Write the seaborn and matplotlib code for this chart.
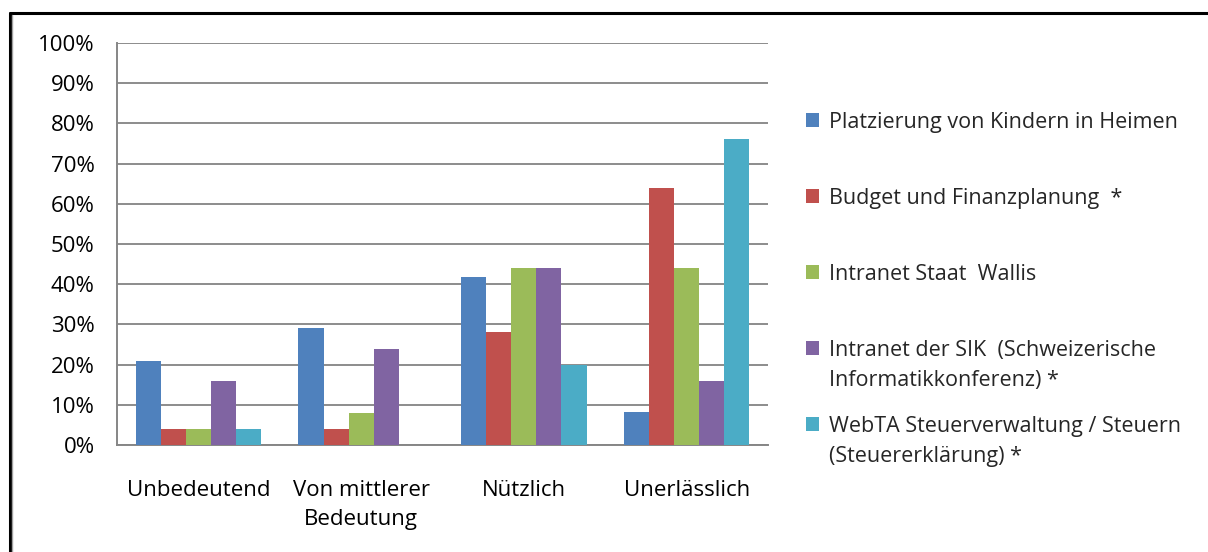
import matplotlib
matplotlib.use("Agg")
import matplotlib.pyplot as plt
import seaborn as sns
import pandas as pd
from matplotlib.lines import Line2D
from matplotlib.patches import Rectangle
from matplotlib.ticker import FuncFormatter, MultipleLocator

categories = ["Unbedeutend", "Von mittlerer\nBedeutung", "Nützlich", "Unerlässlich"]
series = [
    "Platzierung von Kindern in Heimen",
    "Budget und Finanzplanung  *",
    "Intranet Staat  Wallis",
    "Intranet der SIK  (Schweizerische\nInformatikkonferenz) *",
    "WebTA Steuerverwaltung / Steuern\n(Steuererklärung) *",
]
platzierung = [20.8, 29.2, 41.7, 8.3]
budget = [4.0, 4.0, 28.0, 64.0]
intranet_vs = [4.0, 8.0, 44.0, 44.0]
intranet_sik = [16.0, 24.0, 44.0, 16.0]
webta = [4.0, 0.0, 20.0, 76.0]
colors = ["#4F81BD", "#C0504D", "#9BBB59", "#8064A2", "#4BACC6"]

values = [platzierung, budget, intranet_vs, intranet_sik, webta]
df = pd.DataFrame(
    [(c, s, v) for s, vals in zip(series, values) for c, v in zip(categories, vals)],
    columns=["Kategorie", "Serie", "Wert"],
)

sns.set_style("white")
plt.rcParams["font.family"] = ["Open Sans", "DejaVu Sans"]

W, H = 1208, 552
fig = plt.figure(figsize=(W / 100, H / 100), dpi=100)
ax = fig.add_axes([117 / W, 1 - 445 / H, 651 / W, 402 / H])

sns.barplot(data=df, x="Kategorie", y="Wert", hue="Serie", palette=colors,
            width=0.77, saturation=1, linewidth=0, ax=ax, legend=False, zorder=3)

ax.set_ylim(0, 100)
ax.set_xlim(-0.5, 3.5)
ax.yaxis.set_major_locator(MultipleLocator(10))
ax.yaxis.set_major_formatter(FuncFormatter(lambda v, p: f"{v:.0f}%"))
ax.grid(axis="y", color="#8c8c8c", linewidth=1.4, zorder=0)
ax.set_axisbelow(True)
ax.set_xlabel("")
ax.set_ylabel("")
for s in ["top", "right"]:
    ax.spines[s].set_visible(False)
for s in ["left", "bottom"]:
    ax.spines[s].set_color("#868686")
    ax.spines[s].set_linewidth(1.4)
ax.tick_params(axis="y", length=5, width=1.2, color="#868686", labelsize=16, pad=11, labelcolor="#000000")
ax.tick_params(axis="x", which="major", length=0, labelsize=16, pad=25, labelcolor="#000000")
for lbl in ax.get_xticklabels():
    lbl.set_linespacing(1.5)
ax.set_xticks([-0.5, 0.5, 1.5, 2.5, 3.5], minor=True)
ax.tick_params(axis="x", which="minor", length=6, width=1.2, color="#868686", direction="out")

# legend on the right
lx, ly0, step = 806 / W, 120 / H, 76 / H
for i, (name, col) in enumerate(zip(series, colors)):
    y = 1 - (ly0 + i * step)
    fig.patches.append(Rectangle((lx, y - 7 / H), 13 / W, 14 / H,
                                 transform=fig.transFigure, facecolor=col, edgecolor="none"))
    fig.text(lx + 23 / W, y + 8 / H, name, fontsize=15.5, va="top", ha="left",
             linespacing=1.55)

# outer frame (only left and top edges are inside the picture)
fig.add_artist(Line2D([9.5 / W, 9.5 / W], [0, 1 - 12.5 / H], color="black", linewidth=2.2))
fig.add_artist(Line2D([9.5 / W, 1], [1 - 12.5 / H, 1 - 12.5 / H], color="black", linewidth=2.2))
fig.add_artist(Line2D([12 / W, 12 / W], [0, 1 - 15 / H], color="#a0a0a0", linewidth=1))

fig.savefig("out.png", dpi=100)
